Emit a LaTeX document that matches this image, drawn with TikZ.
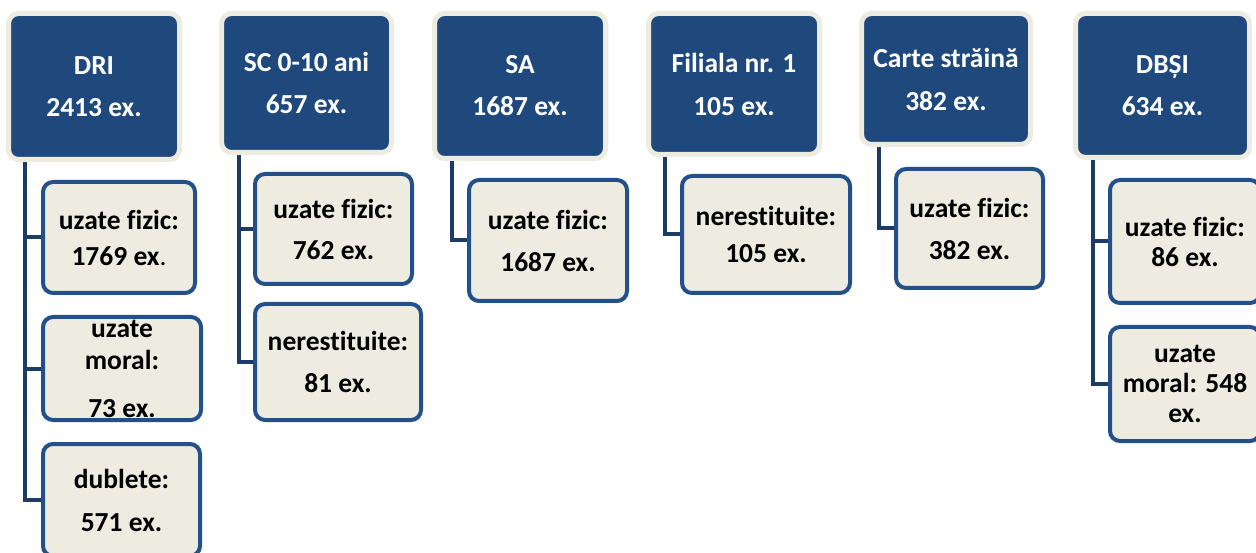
\documentclass[tikz,border=0pt]{standalone}
\usepackage{fontspec}
\setmainfont{Carlito}[Ligatures={NoCommon}]
\usetikzlibrary{backgrounds}
\definecolor{navy}{HTML}{1F497D}
\definecolor{cream}{HTML}{EEECE1}
\definecolor{bordc}{HTML}{24508A}
\definecolor{connc}{HTML}{1C3B66}
\tikzset{
  hdr/.style={rectangle, rounded corners=10pt, fill=navy, draw=cream, line width=5pt,
    text=white, font=\bfseries\fontsize{27.5}{30}\selectfont, align=center, inner sep=0pt, outer sep=0pt},
  leaf/.style={rectangle, rounded corners=10pt, fill=cream, draw=bordc, line width=4pt,
    text=black, font=\bfseries\fontsize{27.5}{30}\selectfont, align=center, inner sep=0pt, outer sep=0pt},
  conn/.style={draw=connc, line width=4pt}
}
\begin{document}
\begin{tikzpicture}[x=1pt,y=-1pt]
\begin{scope}[on background layer]
\fill[white] (0,0) rectangle (1256,553);
\end{scope}
\useasboundingbox (0,0) rectangle (1256,553);

% headers
\node[hdr, minimum width=171pt, minimum height=146pt] (dri) at (94,86.5) {DRI\\[12pt]2413 ex.};
\node[hdr, minimum width=170pt, minimum height=139pt] (sc) at (306.5,83) {SC 0-10 ani\\[12pt]657 ex.};
\node[hdr, minimum width=171pt, minimum height=145pt] (sa) at (520,86) {SA\\[12pt]1687 ex.};
\node[hdr, minimum width=171pt, minimum height=141pt] (fil) at (734,84) {Filiala nr. 1\\[13pt]105 ex.};
\node[hdr, minimum width=169pt, minimum height=131pt] (cs) at (946,79) {Carte străină\\[13pt]382 ex.};
\node[hdr, minimum width=174pt, minimum height=144pt] (dbsi) at (1162.5,85.5) {DBȘI\\[12pt]634 ex.};

% children
\node[leaf, minimum width=152pt, minimum height=111pt] (dri1) at (119,237.5) {uzate fizic:\\[6pt]1769 ex{\mdseries .}};
\node[leaf, minimum width=158pt, minimum height=103pt] (dri2) at (122,368.5) {uzate\\[2pt]moral:\\[18pt]73 ex.};
\node[leaf, minimum width=157pt, minimum height=112pt] (dri3) at (121.5,500) {dublete:\\[13pt]571 ex.};

\node[leaf, minimum width=157pt, minimum height=110pt] (sc1) at (333.5,229) {uzate fizic:\\[11pt]762 ex.};
\node[leaf, minimum width=166pt, minimum height=116pt] (sc2) at (338,362) {nerestituite:\\[12pt]81 ex.};

\node[leaf, minimum width=158pt, minimum height=121pt] (sa1) at (548,240.5) {uzate fizic:\\[12pt]1687 ex.};

\node[leaf, minimum width=168pt, minimum height=117pt] (fil1) at (766,234.5) {nerestituite:\\[7pt]105 ex.};

\node[leaf, minimum width=147pt, minimum height=119pt] (cs1) at (969.5,228.5) {uzate fizic:\\[12pt]382 ex.};

\node[leaf, minimum width=150pt, minimum height=123pt] (dbsi1) at (1185,241.5) {uzate fizic:\\86 ex.};
\node[leaf, minimum width=150pt, minimum height=114pt] (dbsi2) at (1185,384) {uzate\\moral: 548\\ex.};

% connectors
\begin{scope}[on background layer]
\draw[conn] ([xshift=16.5pt]dri.south west) |- (dri1.west);
\draw[conn] ([xshift=16.5pt]dri.south west) |- (dri2.west);
\draw[conn] ([xshift=16.5pt]dri.south west) |- (dri3.west);
\draw[conn] ([xshift=17.5pt]sc.south west) |- (sc1.west);
\draw[conn] ([xshift=17.5pt]sc.south west) |- (sc2.west);
\draw[conn] ([xshift=17.5pt]sa.south west) |- (sa1.west);
\draw[conn] ([xshift=16.5pt]fil.south west) |- (fil1.west);
\draw[conn] ([xshift=17.5pt]cs.south west) |- (cs1.west);
\draw[conn] ([xshift=17.5pt]dbsi.south west) |- (dbsi1.west);
\draw[conn] ([xshift=17.5pt]dbsi.south west) |- (dbsi2.west);
\end{scope}
\end{tikzpicture}
\end{document}
